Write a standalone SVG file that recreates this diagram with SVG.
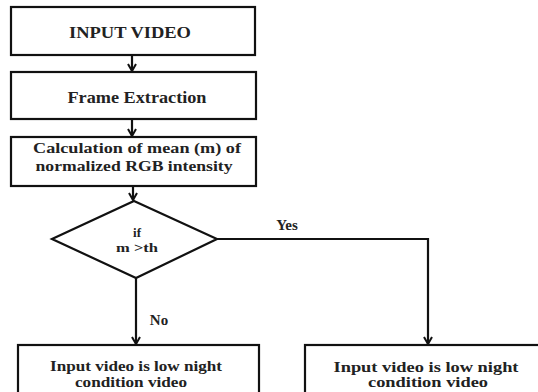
<svg xmlns="http://www.w3.org/2000/svg" width="538" height="392" viewBox="0 0 538 392">
<defs>
<style>
.box{fill:#fff;stroke:#111;stroke-width:2.2}
.ln{fill:none;stroke:#111;stroke-width:2.2}
.t{font-family:"Liberation Serif","Times New Roman",serif;font-weight:bold;fill:#222;text-anchor:middle;dominant-baseline:central}
</style>
<marker id="ah" viewBox="0 0 10 10" refX="9" refY="5" markerWidth="10" markerHeight="10" markerUnits="userSpaceOnUse" orient="auto">
<path d="M2,1 L9,5 L2,9" fill="none" stroke="#111" stroke-width="2"/>
</marker>
</defs>
<rect width="538" height="392" fill="#fff"/>
<g id="connectors">
<line class="ln" x1="132" y1="55" x2="132" y2="71" marker-end="url(#ah)"/>
<line class="ln" x1="132" y1="119" x2="132" y2="136" marker-end="url(#ah)"/>
<line class="ln" x1="133" y1="186" x2="133" y2="200" marker-end="url(#ah)"/>
<line class="ln" x1="136" y1="278" x2="136" y2="344" marker-end="url(#ah)"/>
<polyline class="ln" points="217,239 428,239 428,344" marker-end="url(#ah)"/>
<text class="t" x="287" y="225" font-size="15">Yes</text>
<text class="t" x="159" y="320" font-size="15">No</text>
</g>
<g id="n1">
<rect class="box" x="11" y="7" width="244" height="48"/>
<text class="t" x="130" y="32" font-size="17" textLength="122" lengthAdjust="spacingAndGlyphs">INPUT VIDEO</text>
</g>
<g id="n2">
<rect class="box" x="11" y="72" width="245" height="47"/>
<text class="t" x="137" y="97" font-size="16" textLength="139" lengthAdjust="spacingAndGlyphs">Frame Extraction</text>
</g>
<g id="n3">
<rect class="box" x="11" y="137" width="245" height="49"/>
<text class="t" x="137" y="148" font-size="15" textLength="208" lengthAdjust="spacingAndGlyphs">Calculation of mean (m) of</text>
<text class="t" x="134" y="166" font-size="15" textLength="197" lengthAdjust="spacingAndGlyphs">normalized RGB intensity</text>
</g>
<g id="n4">
<polygon class="box" points="134,201 217,239 136,278 52,239"/>
<text class="t" x="137" y="232" font-size="13">if</text>
<text class="t" x="137" y="247" font-size="13" textLength="42" lengthAdjust="spacingAndGlyphs">m &gt;th</text>
</g>
<g id="n5">
<rect class="box" x="18" y="345" width="241" height="60"/>
<text class="t" x="136" y="366" font-size="14" textLength="172" lengthAdjust="spacingAndGlyphs">Input video is low night</text>
<text class="t" x="131" y="382" font-size="14" textLength="112" lengthAdjust="spacingAndGlyphs">condition video</text>
</g>
<g id="n6">
<rect class="box" x="305" y="345" width="245" height="60"/>
<text class="t" x="426" y="367" font-size="14" textLength="185" lengthAdjust="spacingAndGlyphs">Input video is low night</text>
<text class="t" x="428" y="382" font-size="14" textLength="120" lengthAdjust="spacingAndGlyphs">condition video</text>
</g>
</svg>
